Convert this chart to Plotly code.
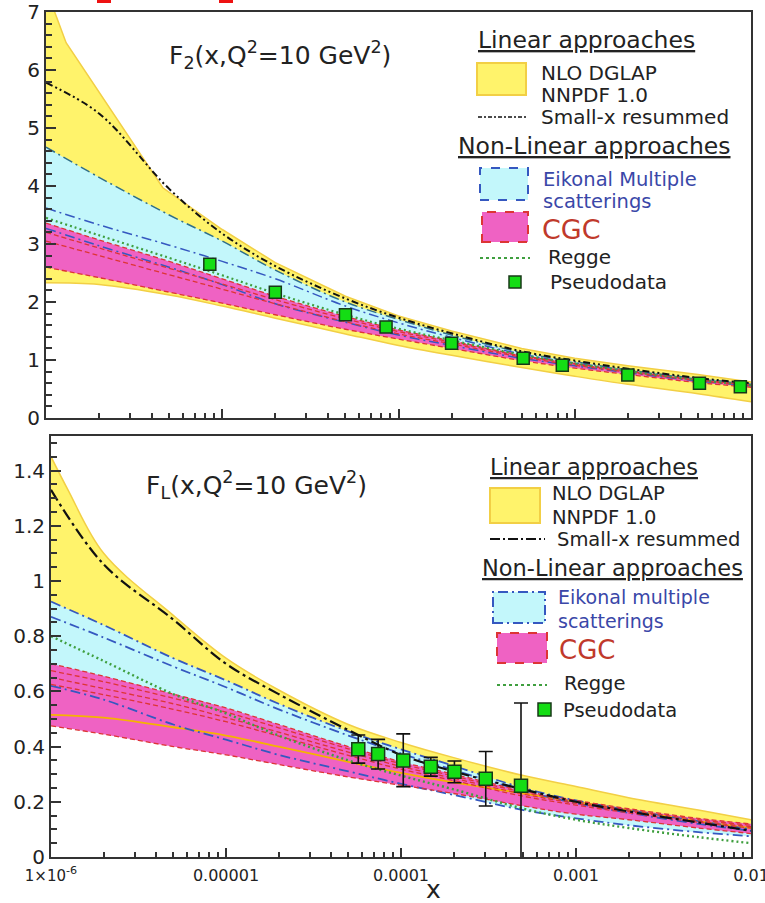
import plotly.graph_objects as go

W, H = 765, 903
def px(x): return x / W
def py(y): return 1 - y / H

# ---------------- data ----------------
X_GRID = [1e-6, 2e-6, 5e-6, 1e-5, 2e-5, 5e-5, 1e-4, 2e-4, 5e-4, 1e-3, 2e-3, 5e-3, 1e-2]

# F2 panel
f2_yellow_x = [1e-6, 1.12e-6, 1.3e-6, 4.6e-6, 1e-5, 2e-5, 5e-5, 1e-4, 2e-4, 5e-4, 1e-3, 2e-3, 5e-3, 1e-2]
f2_yellow_hi = [7.6, 7.0, 6.47, 3.97, 3.25, 2.68, 2.1, 1.76, 1.5, 1.2, 1.03, 0.9, 0.75, 0.62]
f2_yellow_lo = [2.33, 2.3, 2.12, 1.93, 1.72, 1.45, 1.25, 1.08, 0.87, 0.72, 0.58, 0.42, 0.28]
f2_resum = [5.78, 5.25, 3.95, 3.18, 2.62, 2.06, 1.73, 1.46, 1.15, 0.99, 0.85, 0.69, 0.6]
f2_eik_hi = [4.67, 4.15, 3.5, 3.05, 2.55, 2.0, 1.7, 1.43, 1.13, 0.97, 0.83, 0.68, 0.59]
f2_eik_mid = [3.62, 3.33, 2.98, 2.7, 2.4, 1.93, 1.64, 1.39, 1.1, 0.95, 0.82, 0.67, 0.58]
f2_eik_lo = [3.27, 2.97, 2.6, 2.3, 1.97, 1.65, 1.43, 1.25, 1.03, 0.9, 0.78, 0.64, 0.555]
f2_cgc_hi = [3.36, 3.07, 2.7, 2.4, 2.1, 1.75, 1.52, 1.33, 1.08, 0.94, 0.81, 0.66, 0.57]
f2_cgc_in1 = [3.2, 2.93, 2.58, 2.31, 2.04, 1.71, 1.49, 1.31, 1.07, 0.93, 0.8, 0.655, 0.565]
f2_cgc_in2 = [3.05, 2.8, 2.47, 2.22, 1.97, 1.66, 1.45, 1.28, 1.05, 0.91, 0.79, 0.645, 0.56]
f2_cgc_lo = [2.6, 2.42, 2.17, 1.98, 1.78, 1.53, 1.36, 1.2, 0.99, 0.86, 0.75, 0.61, 0.53]
f2_regge = [3.45, 3.15, 2.76, 2.46, 2.15, 1.78, 1.54, 1.34, 1.09, 0.94, 0.81, 0.655, 0.565]
f2_data_x = [8.5e-6, 2.0e-5, 5.0e-5, 8.5e-5, 2.0e-4, 5.1e-4, 8.5e-4, 2.0e-3, 5.1e-3, 8.7e-3]
f2_data_y = [2.65, 2.17, 1.78, 1.57, 1.29, 1.03, 0.91, 0.74, 0.60, 0.54]

# FL panel
fl_yellow_x = [1e-6, 1.25e-6, 2e-6, 5e-6, 1e-5, 2e-5, 5e-5, 1e-4, 2e-4, 5e-4, 1e-3, 2e-3, 5e-3, 1e-2]
fl_yellow_hi = [1.45, 1.33, 1.10, 0.875, 0.72, 0.605, 0.48, 0.415, 0.36, 0.295, 0.255, 0.215, 0.17, 0.135]
fl_yellow_lo = [0.515, 0.505, 0.47, 0.44, 0.40, 0.345, 0.305, 0.27, 0.23, 0.2, 0.17, 0.13, 0.105]
fl_resum = [1.33, 1.06, 0.86, 0.70, 0.59, 0.46, 0.37, 0.31, 0.245, 0.2, 0.165, 0.125, 0.095]
fl_eik_hi = [0.925, 0.84, 0.72, 0.64, 0.555, 0.455, 0.39, 0.33, 0.25, 0.205, 0.17, 0.13, 0.1]
fl_eik_mid = [0.87, 0.795, 0.69, 0.615, 0.535, 0.44, 0.375, 0.315, 0.24, 0.195, 0.16, 0.12, 0.095]
fl_eik_lo = [0.62, 0.57, 0.48, 0.425, 0.37, 0.31, 0.265, 0.225, 0.17, 0.14, 0.115, 0.09, 0.075]
fl_cgc_hi = [0.70, 0.655, 0.59, 0.54, 0.48, 0.40, 0.345, 0.30, 0.24, 0.205, 0.175, 0.14, 0.12]
fl_cgc_in1 = [0.675, 0.635, 0.575, 0.525, 0.468, 0.392, 0.338, 0.293, 0.235, 0.2, 0.17, 0.135, 0.115]
fl_cgc_in2 = [0.65, 0.61, 0.555, 0.505, 0.452, 0.38, 0.328, 0.285, 0.228, 0.194, 0.165, 0.13, 0.11]
fl_cgc_in3 = [0.625, 0.588, 0.535, 0.49, 0.438, 0.368, 0.318, 0.277, 0.22, 0.188, 0.16, 0.126, 0.105]
fl_cgc_lo = [0.475, 0.445, 0.40, 0.37, 0.335, 0.29, 0.26, 0.23, 0.185, 0.155, 0.135, 0.105, 0.085]
fl_regge = [0.80, 0.71, 0.59, 0.52, 0.44, 0.35, 0.295, 0.245, 0.175, 0.135, 0.105, 0.072, 0.05]
fl_data_x = [5.7e-5, 7.4e-5, 1.03e-4, 1.48e-4, 2.02e-4, 3.05e-4, 4.85e-4]
fl_data_y = [0.39, 0.373, 0.35, 0.327, 0.309, 0.283, 0.258]
fl_err_plus = [0.052, 0.053, 0.096, 0.034, 0.039, 0.099, 0.30]
fl_err_minus = [0.05, 0.054, 0.095, 0.034, 0.04, 0.098, 0.30]

X_TICKS = [1e-6, 1e-5, 1e-4, 1e-3, 1e-2]
X_TICKTEXT = ["<span style='font-size:15px'>1×10</span><sup>-6</sup>", "0.00001", "0.0001", "0.001", "0.01"]

# ---------------- style ----------------
FONT = "DejaVu Sans"
TXT = "#222222"
YEL_FILL = "#fff36b"
YEL_EDGE = "#f2cf45"
CYAN_FILL = "#c3f7fb"
MAG_FILL = "#ef62c3"
BLUE = "#3558c0"
TEAL = "#2f6f8a"
RED = "#dd3535"
GREEN = "#3f9f3f"
BLACK = "#111111"
PGREEN = "#14dd14"
EIK_TXT = "#3a47a8"
CGC_TXT = "#c0392b"

fig = go.Figure()

def band(xlo, lo, xhi, hi, fill, xa, ya, shlo="spline", shhi="spline"):
    fig.add_trace(go.Scatter(x=xlo, y=lo, mode="lines", line=dict(width=0, shape=shlo),
                             hoverinfo="skip", showlegend=False, xaxis=xa, yaxis=ya))
    fig.add_trace(go.Scatter(x=xhi, y=hi, mode="lines", line=dict(width=0, shape=shhi),
                             fill="tonexty", fillcolor=fill, hoverinfo="skip",
                             showlegend=False, xaxis=xa, yaxis=ya))

def line(x, y, color, dash, width, xa, ya, shape="spline"):
    fig.add_trace(go.Scatter(x=x, y=y, mode="lines",
                             line=dict(color=color, dash=dash, width=width, shape=shape),
                             hoverinfo="skip", showlegend=False, xaxis=xa, yaxis=ya))

DASHDOT = "10px,4px,2px,4px"
REDDASH = "5px,3px"
DOT = "2px,3px"

# ----- top panel -----
band(X_GRID, f2_yellow_lo, f2_yellow_x, f2_yellow_hi, YEL_FILL, "x", "y", "spline", "linear")
band(X_GRID, f2_eik_lo, X_GRID, f2_eik_hi, CYAN_FILL, "x", "y")
band(X_GRID, f2_cgc_lo, X_GRID, f2_cgc_hi, MAG_FILL, "x", "y")
line(f2_yellow_x, f2_yellow_hi, YEL_EDGE, "solid", 1.5, "x", "y", "linear")
line(X_GRID, f2_yellow_lo, YEL_EDGE, "solid", 1.5, "x", "y")
line(X_GRID, f2_eik_hi, TEAL, DASHDOT, 1.5, "x", "y")
line(X_GRID, f2_eik_mid, BLUE, DASHDOT, 1.5, "x", "y")
line(X_GRID, f2_eik_lo, BLUE, DASHDOT, 1.5, "x", "y")
for arr in (f2_cgc_hi, f2_cgc_in1, f2_cgc_in2, f2_cgc_lo):
    line(X_GRID, arr, RED, REDDASH, 1.3, "x", "y")
line(X_GRID, f2_regge, GREEN, DOT, 2.2, "x", "y")
line(X_GRID, f2_resum, BLACK, "7px,3px,2px,3px,2px,3px", 2, "x", "y")
fig.add_trace(go.Scatter(x=f2_data_x, y=f2_data_y, mode="markers",
                         marker=dict(symbol="square", size=12, color=PGREEN,
                                     line=dict(color="#183818", width=1.5)),
                         hoverinfo="skip", showlegend=False, xaxis="x", yaxis="y"))

# ----- bottom panel -----
band(X_GRID, fl_yellow_lo, fl_yellow_x, fl_yellow_hi, YEL_FILL, "x2", "y2")
band(X_GRID, fl_eik_lo, X_GRID, fl_eik_hi, CYAN_FILL, "x2", "y2")
band(X_GRID, fl_cgc_lo, X_GRID, fl_cgc_hi, MAG_FILL, "x2", "y2")
line(fl_yellow_x, fl_yellow_hi, YEL_EDGE, "solid", 1.5, "x2", "y2")
line(X_GRID, fl_yellow_lo, "#f5b400", "solid", 1.8, "x2", "y2")
line(X_GRID, fl_eik_hi, BLUE, DASHDOT, 1.8, "x2", "y2")
line(X_GRID, fl_eik_mid, BLUE, DASHDOT, 1.8, "x2", "y2")
line(X_GRID, fl_eik_lo, BLUE, DASHDOT, 1.8, "x2", "y2")
for arr in (fl_cgc_hi, fl_cgc_in1, fl_cgc_in2, fl_cgc_in3, fl_cgc_lo):
    line(X_GRID, arr, RED, REDDASH, 1.3, "x2", "y2")
line(X_GRID, fl_regge, GREEN, DOT, 2.4, "x2", "y2")
line(X_GRID, fl_resum, BLACK, "12px,4px,3px,4px", 2.2, "x2", "y2")
fig.add_trace(go.Scatter(x=fl_data_x, y=fl_data_y, mode="markers",
                         error_y=dict(type="data", array=fl_err_plus, arrayminus=fl_err_minus,
                                      color="#111111", thickness=1.6, width=7),
                         marker=dict(symbol="square", size=13, color=PGREEN,
                                     line=dict(color="#183818", width=1.5)),
                         hoverinfo="skip", showlegend=False, xaxis="x2", yaxis="y2"))

# ---------------- axes ----------------
minor_x = [k * 10 ** e for e in range(-6, -2) for k in range(2, 10)]
axis_common = dict(showline=True, linecolor="#333333", linewidth=2, mirror=True,
                   showgrid=False, zeroline=False, ticks="inside", tickcolor="#333333",
                   tickwidth=1.5, automargin=False)
fig.update_layout(
    width=W, height=H, margin=dict(l=0, r=0, t=0, b=0, pad=0, autoexpand=False),
    paper_bgcolor="white", plot_bgcolor="white", hovermode=False,
    font=dict(family=FONT, color=TXT),
    xaxis=dict(domain=[px(46), px(751)], type="log", range=[-6, -2], anchor="y",
               tickvals=X_TICKS, showticklabels=False, ticklen=9,
               minor=dict(tickvals=minor_x, ticks="inside", ticklen=5, tickcolor="#333333"),
               **axis_common),
    yaxis=dict(domain=[py(418), py(12)], range=[0, 7], dtick=1, anchor="x", ticklen=10,
               tickfont=dict(size=20, color=TXT, family=FONT),
               minor=dict(dtick=0.2, ticks="inside", ticklen=6, tickcolor="#333333"),
               **axis_common),
    xaxis2=dict(domain=[px(51), px(751)], type="log", range=[-6, -2], anchor="y2",
                tickvals=X_TICKS, ticktext=X_TICKTEXT, ticklen=9, ticklabelstandoff=3,
                ticklabeloverflow="allow",
                tickfont=dict(size=16, color=TXT, family=FONT),
                minor=dict(tickvals=minor_x, ticks="inside", ticklen=5, tickcolor="#333333"),
                **axis_common),
    yaxis2=dict(domain=[py(857), py(436)], range=[0, 1.525],
                tickvals=[0, 0.2, 0.4, 0.6, 0.8, 1, 1.2, 1.4],
                anchor="x2", ticklen=10,
                tickfont=dict(size=20, color=TXT, family=FONT),
                minor=dict(dtick=0.05, ticks="inside", ticklen=6, tickcolor="#333333"),
                **axis_common),
)

# ---------------- legends / labels ----------------
shapes = []
ann = []

def rect(x0, y0, x1, y1, fill, lc, dash="solid", lw=2):
    shapes.append(dict(type="rect", xref="paper", yref="paper", x0=px(x0), x1=px(x1),
                       y0=py(y1), y1=py(y0), fillcolor=fill,
                       line=dict(color=lc, width=lw, dash=dash), layer="above"))

def hline(x0, x1, y, color, dash, lw):
    shapes.append(dict(type="line", xref="paper", yref="paper", x0=px(x0), x1=px(x1),
                       y0=py(y), y1=py(y), line=dict(color=color, width=lw, dash=dash), layer="above"))

def text(x, y, s, size, color=TXT, anchor="left"):
    ann.append(dict(x=px(x), y=py(y), xref="paper", yref="paper", text=s, showarrow=False,
                    xanchor=anchor, yanchor="middle", font=dict(size=size, color=color, family=FONT)))

# titles
text(167, 55, "F<sub>2</sub>(x,Q<sup>2</sup>=10 GeV<sup>2</sup>)", 25)
text(144, 485, "F<sub>L</sub>(x,Q<sup>2</sup>=10 GeV<sup>2</sup>)", 25)
# x-axis title
text(433, 889, "x", 25, anchor="center")

# top legend
text(476, 40, "<u>Linear approaches</u>", 23.5)
rect(477, 63, 526, 95, YEL_FILL, YEL_EDGE)
text(539, 73, "NLO DGLAP", 20)
text(539, 95, "NNPDF 1.0", 20)
hline(478, 527, 117, BLACK, "4px,2px,2px,2px", 1.6)
text(539, 117, "Small-x resummed", 20)
text(456, 146, "<u>Non-Linear approaches</u>", 23.5)
rect(480, 168, 528, 200, CYAN_FILL, BLUE, "dash")
text(541, 179, "Eikonal Multiple", 19.5, EIK_TXT)
text(541, 201, "scatterings", 19.5, EIK_TXT)
rect(482, 212, 528, 242, MAG_FILL, RED, "dash")
text(540, 229, "CGC", 27, CGC_TXT)
hline(480, 530, 258, GREEN, "3px,3px", 2)
text(546, 257, "Regge", 20)
rect(509, 276, 521, 288, PGREEN, "#183818", "solid", 1.5)
text(548, 282, "Pseudodata", 20)

# bottom legend
text(488, 467, "<u>Linear approaches</u>", 22.5)
rect(490, 488, 540, 523, YEL_FILL, YEL_EDGE)
text(550, 494, "NLO DGLAP", 19.5)
text(550, 517, "NNPDF 1.0", 19.5)
hline(490, 545, 539, BLACK, "10px,3px,2px,3px", 1.8)
text(555, 539, "Small-x resummed", 19.5)
text(480, 568, "<u>Non-Linear approaches</u>", 22.5)
rect(493, 592, 545, 623, CYAN_FILL, BLUE, "10px,4px,2px,4px")
text(556, 597, "Eikonal multiple", 19, EIK_TXT)
text(556, 621, "scatterings", 19, EIK_TXT)
rect(497, 633, 547, 663, MAG_FILL, RED, "dash")
text(557, 650, "CGC", 26, CGC_TXT)
hline(497, 547, 685, GREEN, "3px,3px", 2)
text(562, 683, "Regge", 19.5)
rect(538, 703, 551, 716, PGREEN, "#183818", "solid", 1.5)
text(561, 710, "Pseudodata", 19.5)

# red fragments at the very top edge
shapes.append(dict(type="rect", xref="paper", yref="paper", x0=px(97), x1=px(111), y0=py(3), y1=py(0),
                   fillcolor="#ee1111", line=dict(width=0)))
shapes.append(dict(type="rect", xref="paper", yref="paper", x0=px(219), x1=px(233), y0=py(3), y1=py(0),
                   fillcolor="#ee1111", line=dict(width=0)))

fig.update_layout(shapes=shapes, annotations=ann)
fig.write_html("out.html", config={"displayModeBar": False},
               post_script="document.body.style.margin='0';document.body.style.overflow='hidden';")
